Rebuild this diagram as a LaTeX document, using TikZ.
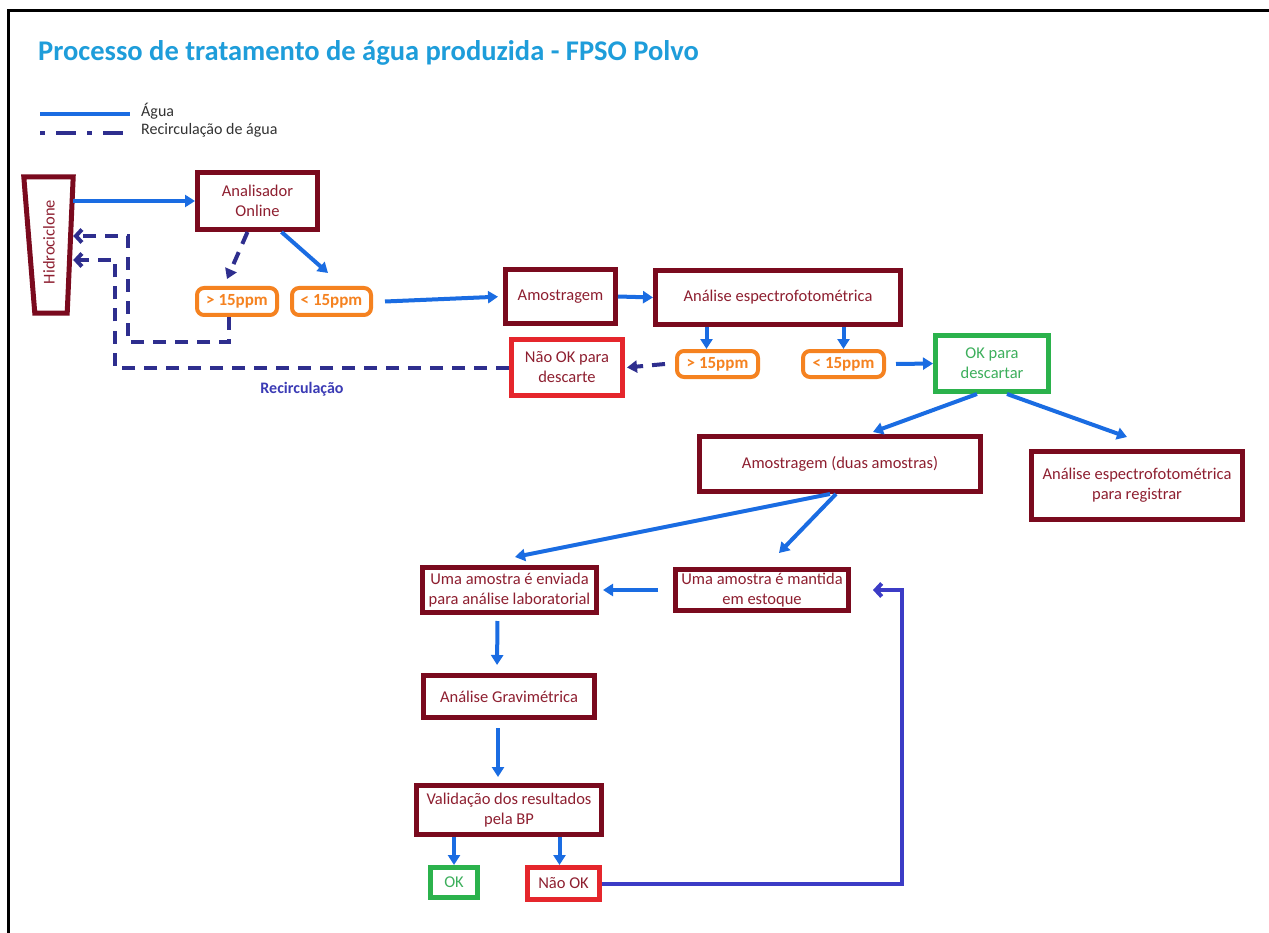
\documentclass[tikz,border=0pt]{standalone}
\usepackage{fontspec}
\setmainfont{Carlito}
\usetikzlibrary{arrows.meta,calc}
\definecolor{dred}{HTML}{7A0A1E}
\definecolor{tred}{HTML}{8E1F30}
\definecolor{titlec}{HTML}{1E9DDA}
\definecolor{blueA}{HTML}{1A6CE2}
\definecolor{navy}{HTML}{2E2E8E}
\definecolor{indig}{HTML}{3C3CC6}
\definecolor{orng}{HTML}{F58220}
\definecolor{grn}{HTML}{2BB24C}
\definecolor{grnt}{HTML}{3DAF5C}
\definecolor{redb}{HTML}{E5262C}
\definecolor{recl}{HTML}{3B3BB5}
\definecolor{legt}{HTML}{333333}
\begin{document}
\begin{tikzpicture}[x=1pt,y=-1pt,
  every node/.style={inner sep=0pt, align=center, font=\fontsize{16.5}{20}\selectfont},
  sz/.style 2 args={minimum width=#1pt, minimum height=#2pt},
  box/.style={draw=dred, line width=5pt, text=tred},
  redbox/.style={draw=redb, line width=5pt, text=tred},
  grnbox/.style={draw=grn, line width=5pt, text=grnt},
  ppm/.style={draw=orng, line width=4pt, rounded corners=7pt, text=orng, font=\fontsize{17}{20}\selectfont\bfseries},
  water/.style={draw=blueA, line width=4pt, -{Triangle[length=10pt,width=12pt]}},
  recircA/.style={draw=navy, line width=4pt, dash pattern=on 13pt off 9pt, -{Triangle[length=10pt,width=12pt]}},
  recircB/.style={draw=navy, line width=4pt, dash pattern=on 13pt off 9pt, -{Straight Barb[length=6pt,width=13pt]}},
  back/.style={draw=indig, line width=4pt, -{Straight Barb[length=6pt,width=13pt]}},
]
\useasboundingbox (0,0) rectangle (1269,933);
\fill[white] (0,0) rectangle (1269,933);
\draw[line width=3pt, black] (8.5,933) -- (8.5,10.5) -- (1269,10.5);

% title and legend
\node[anchor=west, font=\fontsize{28.5}{33}\selectfont\bfseries, text=titlec] (title) at (38,53) {Processo de tratamento de água produzida - FPSO Polvo};
\coordinate (la1) at (40,114); \coordinate (la2) at (130,114);
\coordinate (lb1) at (40,133); \coordinate (lb2) at (130,133);
\draw[blueA, line width=4pt] (la1) -- (la2);
\draw[navy, line width=4pt, dash pattern=on 5pt off 11pt on 20pt off 11pt] (lb1) -- (lb2);
\node[anchor=west, text=legt, font=\fontsize{16}{19}\selectfont] (lt1) at (141,111) {Água};
\node[anchor=west, text=legt, font=\fontsize{16}{19}\selectfont] (lt2) at (141,130) {Recirculação de água};

% hidrociclone
\node[sz={49}{136}] (hid) at (48.5,245) {};
\draw[dred, line width=5pt] (hid.north west) -- (hid.north east) -- ([xshift=-6pt]hid.south east) -- ([xshift=11pt]hid.south west) -- cycle;
\node[rotate=90, text=tred] (hidlabel) at (49,242) {Hidrociclone};

% boxes
\node[box, sz={120}{57}] (ana) at (257.5,201) {Analisador\\Online};
\node[ppm, sz={80}{27}] (ob1) at (237,301.5) {> 15ppm};
\node[ppm, sz={79}{27}] (ob2) at (331.5,301.5) {< 15ppm};
\node[box, sz={110}{54}] (amo) at (560.5,296.5) {Amostragem};
\node[box, sz={245}{54}] (esp) at (778,297.5) {Análise espectrofotométrica};
\node[ppm, sz={81}{26}] (ob3) at (717.5,364) {> 15ppm};
\node[ppm, sz={81}{26}] (ob4) at (843.5,364) {< 15ppm};
\node[redbox, sz={111}{56}] (nok1) at (567,367.5) {Não OK para\\descarte};
\node[grnbox, sz={113}{56}] (okd) at (992,363.5) {OK para\\descartar};
\node[box, sz={281}{55}] (amo2) at (840,464) {Amostragem (duas amostras)};
\node[box, sz={211}{68}] (esp2) at (1137,485.5) {Análise espectrofotométrica\\para registrar};
\node[box, sz={174}{45}] (env) at (509.5,590) {Uma amostra é enviada\\para análise laboratorial};
\node[box, sz={173}{41}] (man) at (762,590) {Uma amostra é mantida\\em estoque};
\node[box, sz={171}{42}] (grav) at (509,696.5) {Análise Gravimétrica};
\node[box, sz={185}{49}] (val) at (509,810) {Validação dos resultados\\pela BP};
\node[grnbox, sz={47}{30}] (ok) at (454,882.5) {OK};
\node[redbox, sz={72}{32}] (nok2) at (563.5,883.5) {Não OK};

\node[text=recl, font=\fontsize{16}{19}\selectfont\bfseries] (rec) at (302,389) {Recirculação};

% free ends
\coordinate (t1) at (227,279);
\coordinate (t2) at (328,273);
\coordinate (t3) at (873,432);
\coordinate (t4) at (1127,437);
\coordinate (t5) at (515,557);
\coordinate (t6) at (779,553);
\coordinate (e1) at ([xshift=-11pt]ob3.north);
\coordinate (e2) at ([xshift=-4pt]nok2.north);
\coordinate (e3) at ([xshift=-8pt]ob1.south);
\coordinate (c1) at (128,342);
\coordinate (c2) at (115,260);
\coordinate (c4) at (902,590);

% connectors
\draw[water] (hid.east |- ana.west) -- (ana.west);
\draw[recircA] ([xshift=-10pt]ana.south) -- (t1);
\draw[water] ([xshift=24pt]ana.south) -- (t2);
\draw[water, shorten >=5pt] ([xshift=12pt]ob2.east) -- (amo.west);
\draw[water] (amo.east) -- (esp.west);
\draw[water] (e1 |- esp.south) -- (e1);
\draw[water] (ob4.north |- esp.south) -- (ob4.north);
\draw[recircA] ([xshift=-10pt]ob3.west) -- ([xshift=2pt]nok1.east);
\draw[water] ([xshift=10pt]ob4.east) -- (okd.west);
\draw[water] ([xshift=-15pt]okd.south) -- (t3);
\draw[water] ([xshift=15pt]okd.south) -- (t4);
\draw[water] ([xshift=-10pt]amo2.south) -- (t5);
\draw[water] ([xshift=-4pt]amo2.south) -- (t6);
\draw[water] ([xshift=-15pt]man.west) -- ([xshift=4pt]env.east);
\draw[water, shorten <=6pt, shorten >=8pt] ([xshift=-12pt]env.south) -- ([xshift=-12pt]grav.north);
\draw[water, shorten <=8pt, shorten >=6pt] ([xshift=-11pt]grav.south) -- ([xshift=-11pt]val.north);
\draw[water] (ok.north |- val.south) -- (ok.north);
\draw[water] (e2 |- val.south) -- (e2);
\draw[back] (nok2.east) -| (c4) -- ([xshift=22pt]man.east);
\draw[recircB] (e3) |- (c1) |- ([yshift=9pt]hid.east);
\draw[recircB] (nok1.west) -| (c2) -- ([yshift=-15pt]hid.east);
\end{tikzpicture}
\end{document}
